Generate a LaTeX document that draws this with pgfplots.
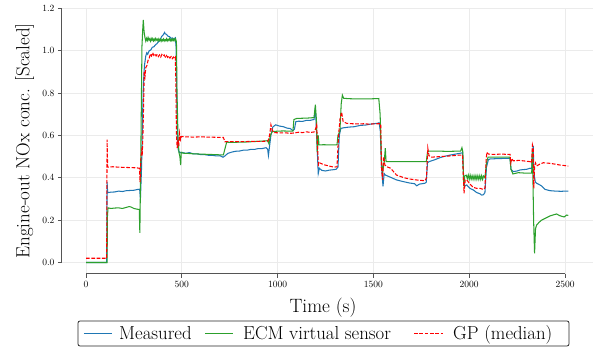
\documentclass[border=0pt]{standalone}
\usepackage{pgfplots}
\pgfplotsset{compat=1.18}
\definecolor{tabblue}{HTML}{1F77B4}
\definecolor{tabgreen}{HTML}{2CA02C}
\definecolor{gpred}{HTML}{FF0000}
\definecolor{gridc}{HTML}{EBEBEB}
\definecolor{spinec}{HTML}{555555}
\begin{document}
\begin{tikzpicture}
\begin{axis}[
  name=ax,
  scale only axis, width=531pt, height=266pt,
  xmin=-125.3, xmax=2646, ymin=-0.0543, ymax=1.2014,
  clip=false,
  axis x line*=bottom, axis y line*=left,
  x axis line style={draw=none}, y axis line style={draw=none},
  tick align=outside,
  major tick length=4pt,
  xtick style={color=spinec, line width=0.8pt},
  ytick style={color=spinec, line width=0.8pt},
  xtick={0,500,1000,1500,2000,2500},
  ytick={0,0.2,0.4,0.6,0.8,1.0,1.2},
  /pgf/number format/assume math mode=true,
  /pgf/number format/1000 sep={},
  yticklabel style={/pgf/number format/.cd, fixed, fixed zerofill, precision=1},
  ticklabel style={font=\fontsize{9.5}{11}\selectfont},
  grid=major, grid style={gridc, line width=0.8pt},
  xlabel={Time (s)},
  xlabel style={font=\fontsize{19.3}{23}\selectfont, inner sep=0pt, at={(axis description cs:0.4915,-0.0914)}, anchor=north},
  ylabel={Engine-out NOx conc. [Scaled]},
  ylabel style={font=\fontsize{19}{23}\selectfont, inner sep=0pt, at={(axis description cs:-0.0885,0.5)}, anchor=north},
]
\addplot[color=tabblue, line width=1.05pt] coordinates {
(0,0.0) (108,0.0) (110,0.38) (113,0.33) (130,0.332) (150,0.333) (170,0.337) (190,0.335) (210,0.339) (230,0.34) (250,0.341) (270,0.345) (280,0.346) (284,0.30) (290,0.45) (296,0.72) (300,0.85) (305,0.93) (312,0.975) (317,0.99) (322,0.983) (330,1.0) (338,1.003) (346,1.016) (354,1.018) (362,1.027) (370,1.033) (378,1.042) (386,1.048) (394,1.066) (402,1.073) (410,1.086) (414,1.079) (420,1.077) (428,1.068) (436,1.066) (444,1.058) (452,1.06) (460,1.053) (466,1.06) (470,1.02) (474,0.75) (478,0.56) (482,0.53) (488,0.52) (495,0.518)
(500,0.52) (520,0.515) (540,0.519) (560,0.513) (580,0.513) (600,0.509) (620,0.509) (640,0.506) (660,0.506) (680,0.503) (700,0.504) (715,0.497) (725,0.503) (740,0.515) (760,0.521) (780,0.525) (800,0.526) (820,0.53) (840,0.53) (860,0.534) (880,0.534) (900,0.538) (920,0.538) (940,0.542) (948,0.535) (952,0.505) (958,0.55) (965,0.6) (975,0.64) (990,0.65) (1010,0.644) (1030,0.641) (1050,0.634) (1065,0.633) (1080,0.622) (1088,0.63) (1095,0.665) (1110,0.667) (1130,0.666) (1150,0.671) (1170,0.671) (1190,0.675) (1196,0.72) (1200,0.68) (1206,0.55) (1212,0.42) (1218,0.445) (1230,0.435) (1250,0.432) (1270,0.436) (1290,0.438) (1305,0.44) (1315,0.45) (1322,0.6) (1330,0.633) (1345,0.636) (1370,0.639) (1400,0.641) (1430,0.647) (1460,0.649) (1490,0.654) (1520,0.657) (1530,0.66) (1536,0.62) (1542,0.45) (1550,0.36) (1556,0.42) (1562,0.413) (1590,0.402) (1620,0.39) (1650,0.383) (1690,0.375) (1715,0.372) (1726,0.362) (1740,0.37) (1769,0.374) (1776,0.38) (1782,0.47) (1790,0.476) (1820,0.485) (1848,0.495) (1875,0.502) (1900,0.507) (1930,0.512) (1955,0.516) (1965,0.518) (1970,0.42) (1976,0.36) (1987,0.366) (2004,0.35) (2022,0.342) (2039,0.33) (2055,0.325) (2065,0.318) (2074,0.32) (2082,0.33) (2090,0.45) (2100,0.485) (2109,0.489) (2140,0.49) (2170,0.491) (2204,0.492) (2213,0.492) (2218,0.44) (2230,0.429) (2250,0.432) (2266,0.437) (2300,0.44) (2318,0.445) (2326,0.442) (2330,0.52) (2334,0.55) (2338,0.42) (2345,0.38) (2352,0.374) (2365,0.368) (2378,0.361) (2396,0.345) (2422,0.339) (2450,0.337) (2480,0.336) (2500,0.337) (2517,0.337)
};
\addplot[color=tabgreen, line width=1.05pt] coordinates {
(0,0) (110,0) (112,0.22) (115,0.258) (130,0.255) (150,0.257) (170,0.258) (190,0.255) (210,0.26) (225,0.264) (235,0.262) (250,0.255) (265,0.252) (278,0.25) (281,0.14) (286,0.5) (292,1.02) (296,1.1) (299,1.145) (303,1.09) (308,1.06) (312,1.045) (316,1.058) (320,1.048) (324,1.062) (328,1.05) (332,1.056) (336,1.045) (340,1.058) (344,1.049) (348,1.057) (352,1.046) (356,1.055) (360,1.047) (364,1.058) (368,1.05) (372,1.054) (376,1.045) (380,1.056) (384,1.048) (388,1.055) (392,1.044) (396,1.053) (400,1.047) (404,1.055) (408,1.045) (412,1.052) (416,1.047) (420,1.056) (424,1.046) (428,1.054) (432,1.048) (436,1.057) (440,1.047) (444,1.054) (448,1.046) (452,1.055) (456,1.048) (460,1.056) (464,1.047) (468,1.055) (472,1.04) (475,0.8) (480,0.6) (485,0.52) (490,0.5) (494,0.46) (497,0.52) (505,0.516) (530,0.515) (560,0.513) (590,0.512) (620,0.511) (650,0.51) (680,0.509) (705,0.508) (717,0.508) (734,0.568) (760,0.567) (800,0.568) (840,0.569) (880,0.571) (920,0.573) (948,0.575) (955,0.56) (962,0.6) (972,0.618) (1000,0.62) (1030,0.621) (1060,0.62) (1080,0.62) (1085,0.675) (1100,0.68) (1130,0.681) (1160,0.682) (1190,0.684) (1197,0.745) (1202,0.68) (1207,0.52) (1212,0.6) (1216,0.555) (1240,0.556) (1270,0.555) (1300,0.555) (1310,0.556) (1315,0.6) (1325,0.62) (1332,0.75) (1338,0.79) (1345,0.775) (1380,0.773) (1420,0.772) (1460,0.772) (1500,0.773) (1528,0.774) (1535,0.7) (1542,0.48) (1548,0.43) (1556,0.47) (1562,0.54) (1566,0.476) (1600,0.476) (1650,0.476) (1700,0.476) (1750,0.476) (1776,0.476) (1782,0.52) (1790,0.526) (1830,0.526) (1870,0.525) (1910,0.525) (1955,0.526) (1962,0.542) (1967,0.52) (1971,0.36) (1977,0.41) (1985,0.412) (1990,0.395) (1995,0.413) (2000,0.393) (2005,0.412) (2010,0.393) (2015,0.41) (2020,0.392) (2025,0.41) (2030,0.392) (2035,0.41) (2040,0.392) (2045,0.41) (2050,0.392) (2055,0.41) (2060,0.392) (2065,0.41) (2070,0.392) (2075,0.408) (2082,0.4) (2090,0.47) (2098,0.497) (2130,0.497) (2170,0.497) (2212,0.497) (2218,0.44) (2228,0.418) (2256,0.424) (2290,0.422) (2326,0.422) (2330,0.53) (2336,0.2) (2341,0.043) (2346,0.16) (2352,0.177) (2365,0.19) (2378,0.2) (2400,0.21) (2422,0.22) (2440,0.225) (2456,0.229) (2470,0.222) (2483,0.218) (2495,0.215) (2509,0.224) (2517,0.222)
};
\addplot[color=gpred, line width=1.05pt, dash pattern=on 3.7pt off 1.6pt] coordinates {
(0,0.02) (108,0.02) (110,0.58) (113,0.45) (140,0.452) (170,0.45) (200,0.449) (230,0.448) (260,0.447) (279,0.445) (282,0.38) (287,0.5) (291,0.53) (294,0.52) (297,0.6) (300,0.72) (304,0.9) (308,0.88) (312,0.92) (318,0.93) (324,0.955) (330,0.965) (336,0.985) (342,0.975) (348,0.99) (354,0.978) (360,0.985) (366,0.975) (372,0.983) (378,0.972) (384,0.98) (390,0.97) (396,0.982) (402,0.975) (408,0.98) (414,0.97) (420,0.977) (426,0.968) (432,0.975) (438,0.965) (444,0.972) (450,0.962) (456,0.97) (462,0.962) (466,0.968) (469,0.85) (472,0.6) (476,0.54) (480,0.58) (484,0.55) (488,0.61) (493,0.58) (498,0.595) (520,0.593) (560,0.592) (600,0.593) (640,0.592) (680,0.591) (717,0.59) (725,0.57) (760,0.571) (800,0.57) (840,0.571) (880,0.572) (920,0.572) (950,0.573) (958,0.6) (965,0.65) (972,0.625) (980,0.613) (1010,0.612) (1040,0.612) (1070,0.61) (1090,0.612) (1110,0.615) (1130,0.613) (1150,0.617) (1170,0.614) (1190,0.616) (1198,0.63) (1204,0.65) (1208,0.55) (1213,0.46) (1220,0.47) (1240,0.462) (1270,0.455) (1295,0.45) (1310,0.452) (1318,0.6) (1326,0.68) (1334,0.71) (1342,0.665) (1360,0.657) (1390,0.655) (1420,0.654) (1450,0.655) (1480,0.653) (1510,0.655) (1538,0.655) (1542,0.45) (1548,0.39) (1553,0.5) (1560,0.46) (1575,0.45) (1590,0.445) (1620,0.413) (1660,0.4) (1690,0.394) (1730,0.389) (1769,0.386) (1777,0.4) (1784,0.539) (1790,0.505) (1800,0.497) (1850,0.5) (1900,0.503) (1950,0.507) (1965,0.507) (1970,0.39) (1973,0.327) (1979,0.39) (1987,0.39) (2004,0.37) (2020,0.355) (2039,0.35) (2056,0.35) (2074,0.345) (2082,0.35) (2088,0.48) (2092,0.52) (2100,0.512) (2130,0.51) (2170,0.512) (2200,0.51) (2213,0.51) (2217,0.47) (2222,0.49) (2230,0.48) (2260,0.482) (2290,0.479) (2318,0.476) (2325,0.47) (2330,0.555) (2334,0.54) (2337,0.35) (2341,0.45) (2346,0.47) (2352,0.456) (2370,0.465) (2387,0.471) (2422,0.468) (2450,0.464) (2474,0.46) (2495,0.458) (2509,0.456) (2517,0.455)
};
\draw[spinec, line width=1pt] (axis cs:0,-0.0543) -- (axis cs:2500,-0.0543);
\draw[spinec, line width=1pt] (axis cs:-125.3,0) -- (axis cs:-125.3,1.2);
% legend, built by hand inside the axis (drawn before the labels)
\draw[black!85, line width=0.8pt, rounded corners=2pt, fill=white] ([xshift=16pt,yshift=-47pt]rel axis cs:0,0) rectangle ([xshift=507pt,yshift=-72pt]rel axis cs:0,0);
\draw[color=tabblue, line width=1.1pt] ([xshift=22pt,yshift=-59.3pt]rel axis cs:0,0) -- ([xshift=50pt,yshift=-59.3pt]rel axis cs:0,0);
\draw[color=tabgreen, line width=1.1pt] ([xshift=143pt,yshift=-59.3pt]rel axis cs:0,0) -- ([xshift=171pt,yshift=-59.3pt]rel axis cs:0,0);
\draw[color=gpred, line width=1.1pt, dash pattern=on 3.7pt off 1.6pt] ([xshift=352pt,yshift=-59.3pt]rel axis cs:0,0) -- ([xshift=381pt,yshift=-59.3pt]rel axis cs:0,0);
\node[anchor=base west, inner sep=0pt, font=\fontsize{18.8}{21}\selectfont] at ([xshift=57pt,yshift=-66pt]rel axis cs:0,0) {Measured};
\node[anchor=base west, inner sep=0pt, font=\fontsize{18.8}{21}\selectfont] at ([xshift=181pt,yshift=-66pt]rel axis cs:0,0) {ECM virtual sensor};
\node[anchor=base west, inner sep=0pt, font=\fontsize{18.8}{21}\selectfont] at ([xshift=391pt,yshift=-66pt]rel axis cs:0,0) {GP (median)};
\end{axis}
\pgfresetboundingbox
\useasboundingbox ([xshift=-62pt,yshift=-73pt]ax.south west) rectangle ([xshift=531pt,yshift=274pt]ax.south west);
\end{tikzpicture}
\end{document}
